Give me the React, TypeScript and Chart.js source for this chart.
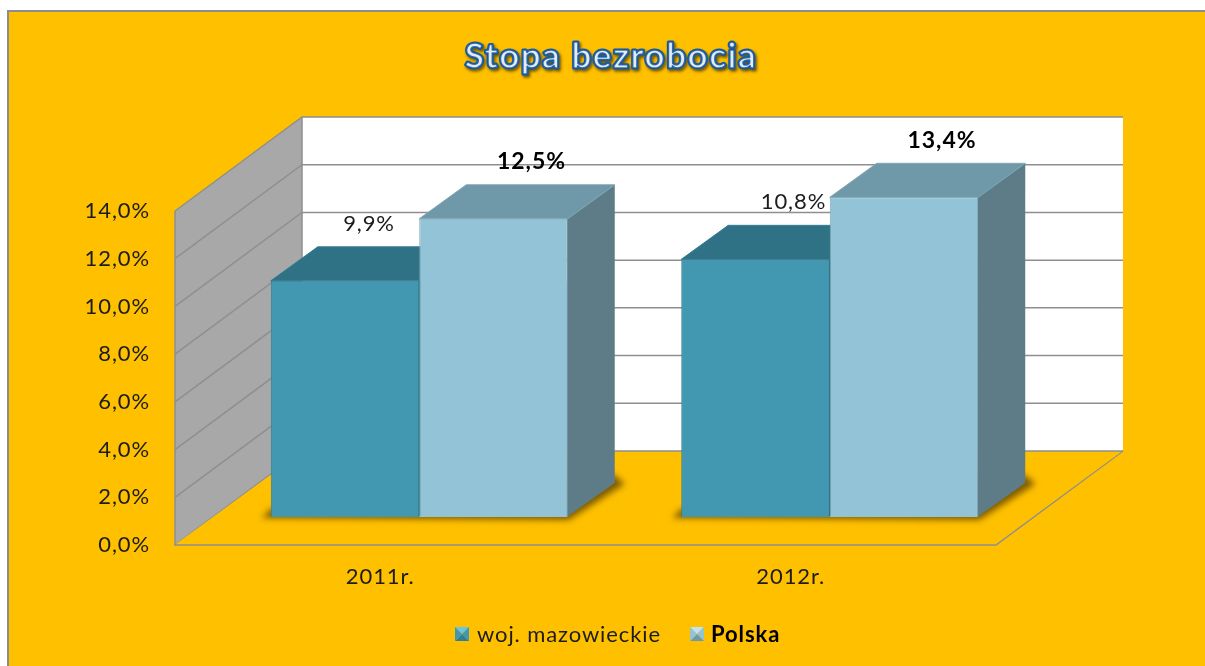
import React, { useEffect, useRef } from "react";
import { Chart, registerables } from "chart.js";

Chart.register(...registerables);

const titleText = "Stopa bezrobocia";
const categories = ["2011r.", "2012r."];
const seriesNames = ["woj. mazowieckie", "Polska"];
const mazowieckie = [9.9, 10.8];
const polska = [12.5, 13.4];
const frontColors = ["#4198b0", "#93c3d6"];
const topColors = ["#2f7285", "#6f98a8"];
const sideColors = ["#2a6678", "#5d7c88"];
const edgeColors = ["#357d92", "#7fa7b6"];

const FONT = "Lato";
const INK = "#1c1c1c";
const GRID = "#8f8f8f";
const WALL = { dx: 127, dy: -94 };
const SHIFT = { dx: 39, dy: -28 };
const DEPTH = { dx: 47, dy: -34 };
const fmt = (v: number) => v.toFixed(1).replace(".", ",") + "%";

function poly(ctx: CanvasRenderingContext2D, pts: number[][]) {
  ctx.beginPath();
  pts.forEach((p, i) => (i ? ctx.lineTo(p[0], p[1]) : ctx.moveTo(p[0], p[1])));
  ctx.closePath();
}

function barBox(chart: any, d: number, i: number) {
  const el = chart.getDatasetMeta(d).data[i];
  const x0 = el.x - el.width / 2 + SHIFT.dx;
  const x1 = el.x + el.width / 2 + SHIFT.dx;
  return { x0, x1, top: el.y + SHIFT.dy, base: el.base + SHIFT.dy };
}

const scene3d = {
  id: "scene3d",
  beforeDraw(chart: any) {
    const ctx: any = chart.ctx;
    const { left, right, top, bottom } = chart.chartArea;
    const y = chart.scales.y;
    const { dx, dy } = WALL;
    ctx.save();
    // page background and border
    ctx.fillStyle = "#ffffff";
    ctx.fillRect(0, 0, chart.width, chart.height);
    ctx.fillStyle = "#ffc000";
    ctx.fillRect(8, 10, chart.width, chart.height);
    ctx.strokeStyle = "#8c8c8c";
    ctx.lineWidth = 2;
    ctx.beginPath();
    ctx.moveTo(8, chart.height);
    ctx.lineTo(8, 11);
    ctx.lineTo(chart.width, 11);
    ctx.stroke();
    // back wall
    ctx.fillStyle = "#ffffff";
    ctx.fillRect(left + dx, top + dy, right - left, bottom - top);
    // left wall
    poly(ctx, [
      [left, top],
      [left + dx, top + dy],
      [left + dx, bottom + dy],
      [left, bottom],
    ]);
    ctx.fillStyle = "#a8a8a8";
    ctx.fill();
    // grid lines from the value scale
    ctx.strokeStyle = GRID;
    ctx.lineWidth = 1.5;
    y.ticks.forEach((t: any) => {
      const py = y.getPixelForValue(t.value);
      ctx.beginPath();
      ctx.moveTo(left, py);
      ctx.lineTo(left + dx, py + dy);
      ctx.lineTo(right + dx, py + dy);
      ctx.stroke();
    });
    ctx.beginPath();
    ctx.moveTo(left, top);
    ctx.lineTo(left, bottom);
    ctx.lineTo(right, bottom);
    ctx.lineTo(right + dx, bottom + dy);
    ctx.moveTo(left + dx, top + dy);
    ctx.lineTo(left + dx, bottom + dy);
    ctx.stroke();
    // floor
    poly(ctx, [
      [left + 1, bottom - 1],
      [left + dx, bottom + dy + 1],
      [right + dx - 2, bottom + dy + 1],
      [right - 1, bottom - 1],
    ]);
    ctx.fillStyle = "#ffc000";
    ctx.fill();
    // floor shadows
    ctx.filter = "blur(3px)";
    ctx.fillStyle = "rgba(105,75,0,0.85)";
    chart.data.labels.forEach((_: string, i: number) => {
      const a = barBox(chart, 0, i);
      const b = barBox(chart, 1, i);
      poly(ctx, [
        [a.x0 - 9, a.base + 1],
        [b.x1 + 1, a.base + 3],
        [b.x1 + DEPTH.dx + 10, a.base + DEPTH.dy + 1],
        [b.x1 + DEPTH.dx, a.base + DEPTH.dy - 8],
        [a.x0, a.base - 8],
      ]);
      ctx.fill();
    });
    ctx.filter = "none";
    ctx.restore();
    // text on this picture is slightly wide
    ctx.letterSpacing = "0.9px";
  },
  beforeDatasetsDraw(chart: any) {
    const ctx: CanvasRenderingContext2D = chart.ctx;
    ctx.save();
    chart.data.labels.forEach((_: string, i: number) => {
      // backing under the seams of the fronts
      const a = barBox(chart, 0, i);
      const b = barBox(chart, 1, i);
      ctx.fillStyle = frontColors[0];
      ctx.fillRect(a.x0 + 1, a.top + 1, b.x0 - a.x0, a.base - a.top - 1);
      ctx.fillStyle = frontColors[1];
      ctx.fillRect(b.x0 - 1, a.top + 1, b.x1 - b.x0, a.base - a.top - 1);
      [0, 1].forEach((d) => {
        const { x0, x1, top, base } = barBox(chart, d, i);
        const { dx, dy } = DEPTH;
        ctx.lineWidth = 1;
        ctx.lineJoin = "round";
        ctx.strokeStyle = edgeColors[d];
        poly(ctx, [
          [x1 - 1, top],
          [x1 + dx, top + dy],
          [x1 + dx, base + dy],
          [x1 - 1, base],
        ]);
        ctx.fillStyle = sideColors[d];
        ctx.fill();
        poly(ctx, [
          [x0, top],
          [x0 + dx, top + dy],
          [x1 + dx, top + dy],
          [x1, top],
        ]);
        ctx.fillStyle = topColors[d];
        ctx.fill();
        ctx.stroke();
      });
    });
    // the chart draws the bar fronts shifted onto the middle of the floor
    ctx.translate(SHIFT.dx, SHIFT.dy);
  },
  afterDatasetsDraw(chart: any) {
    const ctx: any = chart.ctx;
    ctx.restore();
    ctx.save();
    // value labels
    ctx.textAlign = "center";
    ctx.textBaseline = "middle";
    ctx.fillStyle = INK;
    chart.data.datasets.forEach((ds: any, d: number) => {
      ds.data.forEach((v: number, i: number) => {
        const { x0, x1, top } = barBox(chart, d, i);
        const nudge = d === 0 && i === 0 ? 24 : 38;
        ctx.font = `${d === 1 ? "bold 23px" : "22px"} ${FONT}`;
        ctx.fillStyle = d === 1 ? "#000000" : INK;
        ctx.fillText(fmt(v), (x0 + x1) / 2 + nudge, top - 57);
      });
    });
    // title
    ctx.letterSpacing = "1.5px";
    ctx.font = `bold 35px ${FONT}`;
    ctx.lineJoin = "round";
    ctx.save();
    ctx.shadowColor = "rgba(50,40,0,0.75)";
    ctx.shadowBlur = 3;
    ctx.shadowOffsetX = 1.5;
    ctx.shadowOffsetY = 2;
    ctx.strokeStyle = "#17599f";
    ctx.lineWidth = 3;
    ctx.strokeText(titleText, 611, 57);
    ctx.restore();
    ctx.fillStyle = "#e3ecf2";
    ctx.fillText(titleText, 611, 57);
    ctx.strokeStyle = "rgba(23,89,159,0.85)";
    ctx.lineWidth = 1.6;
    ctx.strokeText(titleText, 611, 57);
    ctx.letterSpacing = "0.9px";
    // legend
    ctx.textAlign = "left";
    const entries = [
      { sx: 455, tx: 477, a: "#6cc5dc", b: "#2f7f98", c: "#4198b0" },
      { sx: 690, tx: 711, a: "#c4e2ee", b: "#6f98a8", c: "#93c3d6" },
    ];
    seriesNames.forEach((name, d) => {
      const e = entries[d];
      const s = 14;
      const y0 = 627;
      const m = [e.sx + s / 2, y0 + s / 2];
      const c = [
        [e.sx, y0],
        [e.sx + s, y0],
        [e.sx + s, y0 + s],
        [e.sx, y0 + s],
      ];
      [e.a, e.c, e.b, e.c].forEach((col, k) => {
        poly(ctx, [c[k], c[(k + 1) % 4], m]);
        ctx.fillStyle = col;
        ctx.fill();
      });
      ctx.font = `${d === 1 ? "bold " : ""}22px ${FONT}`;
      ctx.fillStyle = d === 1 ? "#000000" : INK;
      ctx.fillText(name, e.tx, 635);
    });
    ctx.restore();
  },
};

export default function App() {
  const ref = useRef<HTMLCanvasElement>(null);
  useEffect(() => {
    document.body.style.margin = "0";
    const chart = new Chart(ref.current as HTMLCanvasElement, {
      type: "bar",
      data: {
        labels: categories,
        datasets: [
          {
            label: seriesNames[0],
            data: mazowieckie,
            backgroundColor: frontColors[0],
            borderColor: edgeColors[0],
            borderWidth: 1,
          },
          {
            label: seriesNames[1],
            data: polska,
            backgroundColor: frontColors[1],
            borderColor: edgeColors[1],
            borderWidth: 1,
          },
        ],
      },
      options: {
        responsive: false,
        animation: false,
        layout: { padding: { left: 0, top: 211, right: 209, bottom: 0 } },
        datasets: { bar: { categoryPercentage: 0.7235, barPercentage: 1, clip: false } },
        plugins: { legend: { display: false }, title: { display: false }, tooltip: { enabled: false } },
        scales: {
          x: {
            grid: { display: false },
            border: { display: false },
            ticks: { color: INK, padding: 11, font: { family: FONT, size: 22 }, maxRotation: 0 },
            afterFit: (s: any) => {
              s.height = 121;
            },
          },
          y: {
            min: 0,
            max: 14,
            grid: { display: false, drawTicks: false },
            border: { display: false },
            ticks: {
              stepSize: 2,
              color: INK,
              padding: 25,
              font: { family: FONT, size: 22 },
              callback: (v: any) => fmt(Number(v)),
            },
            afterFit: (s: any) => {
              s.width = 175;
            },
          },
        },
      },
      plugins: [scene3d],
    } as any);
    return () => chart.destroy();
  }, []);
  return <canvas ref={ref} width={1205} height={666} style={{ display: "block" }} />;
}
